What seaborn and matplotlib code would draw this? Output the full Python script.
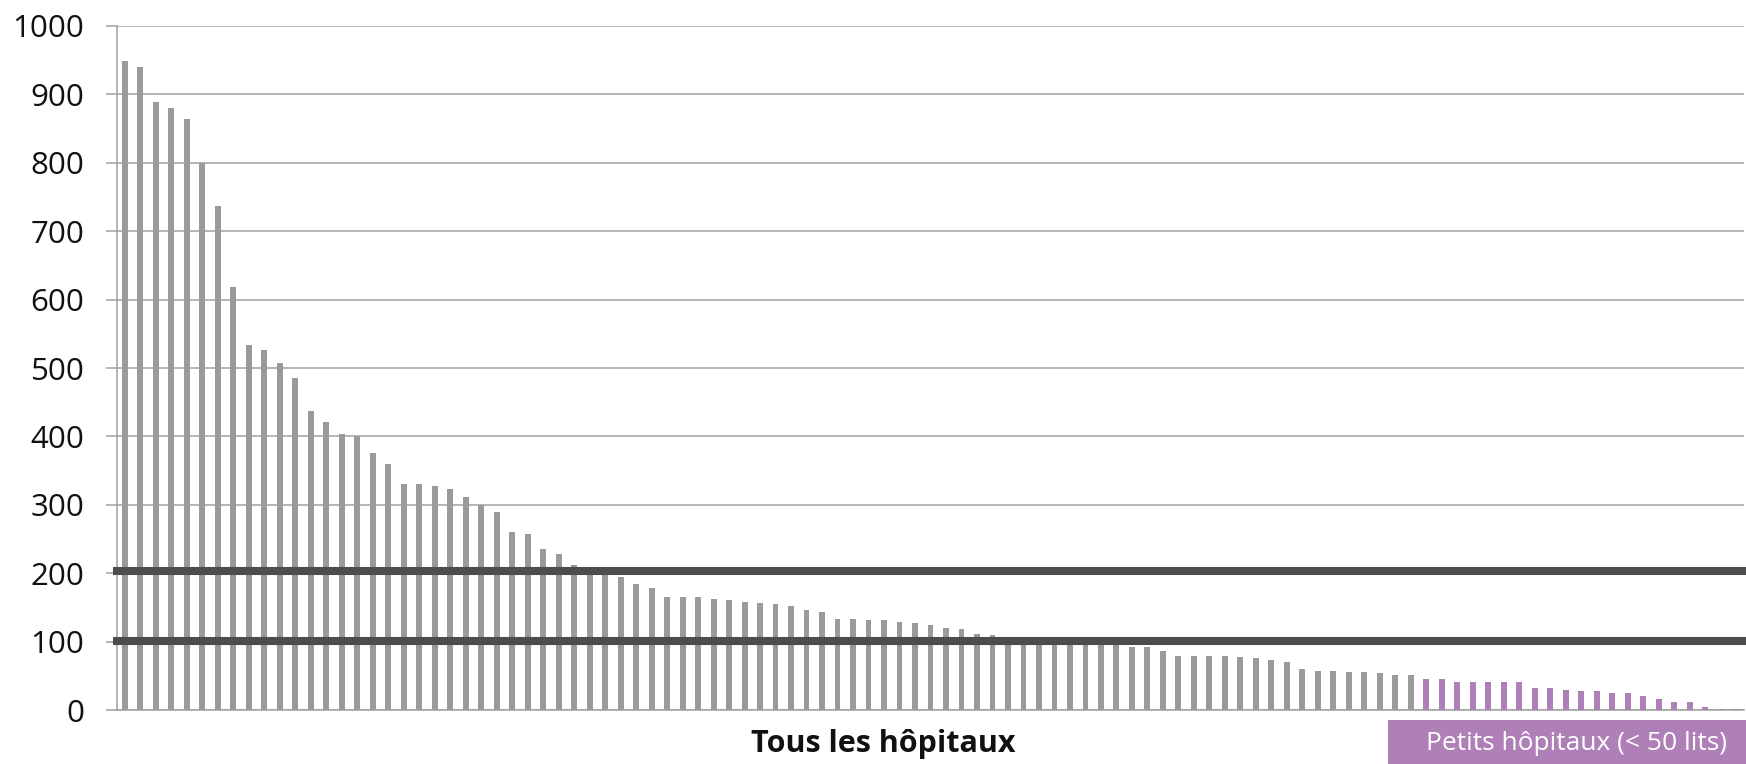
import numpy as np
import pandas as pd
import seaborn as sns
import matplotlib.pyplot as plt
from matplotlib.patches import Rectangle

# beds per hospital, sorted
big = [948, 939, 889, 880, 863, 799, 736, 618, 533, 526,
       508, 485, 437, 421, 403, 401, 376, 360, 330, 330,
       327, 324, 311, 300, 290, 261, 258, 236, 228, 213,
       207, 200, 195, 184, 179, 166, 166, 165, 162, 161,
       159, 157, 156, 153, 147, 143, 134, 133, 132, 132,
       129, 128, 125, 120, 119, 111, 110, 104, 103, 102,
       101, 100, 99, 98, 95, 93, 92, 87, 80, 79,
       79, 79, 78, 77, 73, 71, 61, 57, 57, 56,
       56, 55, 52, 51]
small = [46, 46, 42, 41, 41, 41, 41, 33, 32, 30,
         29, 29, 25, 25, 21, 17, 12, 12, 5, 2.5, 1.5]
thresholds = [203, 102]
yticks = [0, 100, 200, 300, 400, 500, 600, 700, 800, 900, 1000]

label_all = 'Tous les hôpitaux'
label_small = 'Petits hôpitaux (< 50 lits)'

grey = '#9a9a9a'
purple = '#af80b8'
gridc = '#a0a0a0'

values = big + small
df = pd.DataFrame({
    'idx': [str(i) for i in range(len(values))],
    'beds': values,
    'grp': ['big'] * len(big) + ['small'] * len(small),
})

sns.set_style('white')
plt.rcParams['font.family'] = ['Open Sans', 'DejaVu Sans']

W, H = 1746, 764
fig = plt.figure(figsize=(W / 100, H / 100), dpi=100)
ax = fig.add_axes([117 / W, 1 - 710.4 / H, (1744 - 117) / W, (710.4 - 25.6) / H])

sns.barplot(data=df, x='idx', y='beds', hue='grp', palette={'big': grey, 'small': purple},
            dodge=False, width=0.38, legend=False, ax=ax, saturation=1,
            linewidth=0, zorder=3)

ax.set_xlim(-0.5, len(values) - 0.5)
ax.set_ylim(0, 1000)
ax.set_yticks(yticks)
ax.set_yticklabels([str(t) for t in yticks], fontsize=22.5, color='#111111')
ax.set_xticks([])
ax.set_xlabel('')
ax.set_ylabel('')
ax.tick_params(axis='y', length=8, width=1.1, color=gridc, pad=15.5, left=True)
ax.yaxis.grid(True, color=gridc, linewidth=1.1, zorder=0)
ax.set_axisbelow(True)
for s in ['top', 'right']:
    ax.spines[s].set_visible(False)
for s in ['left', 'bottom']:
    ax.spines[s].set_color(gridc)
    ax.spines[s].set_linewidth(1.1)

ax.hlines(thresholds, -0.78, len(values) - 0.4, colors='#4d4d4d', linewidth=5.8,
          clip_on=False, zorder=5)

fig.text(883 / W, 1 - 744 / H, label_all, ha='center', va='center',
         fontsize=22, fontweight='bold', color='#111111')

fig.patches.append(Rectangle((1387.7 / W, 0), (W - 1387.7) / W, 44 / H,
                             transform=fig.transFigure, facecolor=purple,
                             edgecolor='none'))
fig.text(1576 / W, 1 - 743 / H, label_small, ha='center', va='center',
         fontsize=19, color='white')

fig.savefig('out.png', dpi=100)
